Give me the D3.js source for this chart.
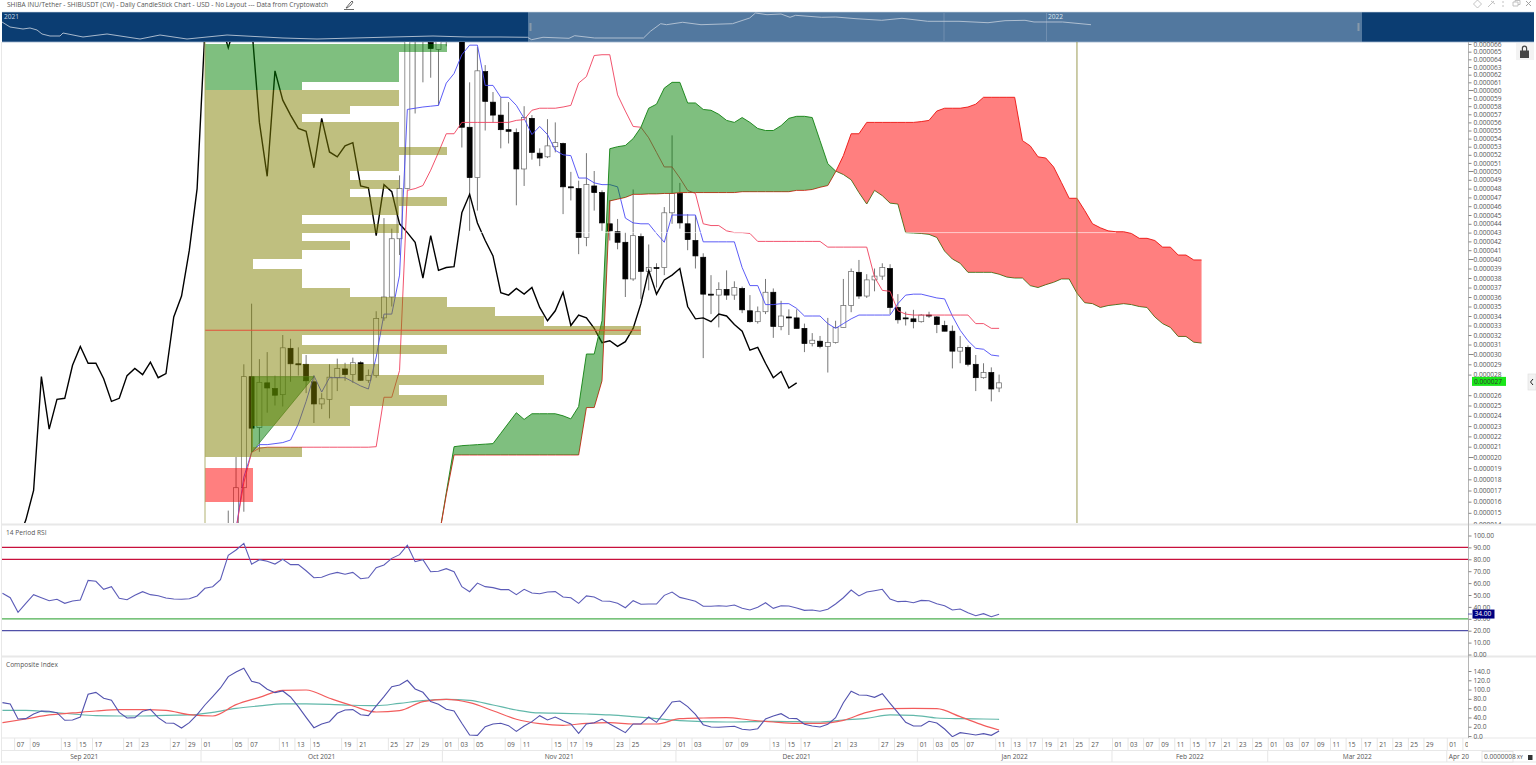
<!DOCTYPE html>
<html><head><meta charset="utf-8">
<script src="https://cdn.jsdelivr.net/npm/d3@7/dist/d3.min.js"></script>
<style>
html,body{margin:0;padding:0;background:#fff;overflow:hidden}
svg{display:block;font-family:"Open Sans",sans-serif}
text{fill:#555;font-size:6.6px}
</style></head><body>
<svg id="c" width="1536" height="765"></svg>
<script>
// ---- data (prices in millionths of USDT; bars counted from 1 Oct 2021) ----
const titleText = "SHIBA INU/Tether - SHIBUSDT (CW) - Daily CandleStick Chart - USD - No Layout --- Data from Cryptowatch";
const candleFirstBar = 3;
const candleOpen = [13.5,13.5,17.25,27.8,22.85,27.2,26.65,26.05,30.6,29.05,29,27.3,25.15,25.6,27.7,28.55,28,29.15,27.45,27.9,33.8,36,42.3,48,67.5,67,66.2,65.3,68,72,68,55.4,49.25,62.4,58.5,56.9,55.1,54.75,50.25,56.5,52.2,51.75,53,53.4,48.2,48,42.45,48.3,47.55,44,43.1,41.9,37.9,42.55,38.7,39.1,39.1,45.25,47.45,44,42.1,40.2,36.3,36.2,36.8,36.2,36.9,34.55,33.4,34.45,36.5,32.9,33.9,33.8,32.7,31.1,31.35,30.8,31.2,32.8,35.1,38.6,36.1,37.8,38.2,39,34.9,33.8,33.7,33.4,34.1,33.9,33,32.4,30.3,30.7,29,27.7,28.2,26.7];
const candleHigh = [15.2,20,29,35.3,29.5,30.2,27.9,32,31.6,30.7,29.9,27.9,26.2,29,29.55,29.15,29.65,29.3,28.5,34.5,44.65,43.45,49.5,68,72,72,68,68,70,75,72,61,65.6,63.25,59.75,59.1,58.5,55.25,58,56.9,52.8,56.4,56,53.5,49.9,48.9,52.2,50,47.8,46.7,44.55,43,47.9,42.9,41.65,39.55,45.9,54.4,48.65,45.1,44.9,40.65,38.3,37.55,38.8,37.65,37.1,36.2,35,37.9,36.9,35.6,34.7,34.7,33.2,32.2,31.9,33.8,33.5,37.9,39,39.9,38.4,39,39.55,39.45,36.3,34.45,34.65,34.2,34.45,34,33.5,33,31.9,30.9,29.9,29.1,28.7,28];
const candleLow = [13,13,15.1,20.45,20.5,24.3,25,24.9,27.3,27.9,26.2,23.3,24.65,23.75,26.4,27.4,27.2,27.4,27.2,27.7,33.5,35,40.45,47.9,57.1,61,61.6,58.1,65.7,68,52.9,43.2,45.5,55,56,52.8,53.4,46.1,48.3,51.4,50.6,51.6,52.3,45.1,46.65,40.55,41.45,45.5,43.2,42.1,41.1,36,37.7,35.8,36.7,37,38.3,44,43.45,41,39,29.6,34.2,32.8,35.7,35.7,34.3,33.3,33.2,34.2,31.7,32.5,32,32.7,30.2,30.8,30.6,28.2,31.1,32.8,34.4,35.8,35.9,36.6,37.8,34.2,33.2,33,32.7,33.3,33.8,32.2,32.4,28.6,29.1,28.8,26.4,27.6,25.4,26.3];
const candleClose = [13.2,17.25,27.8,22.8,27.25,26.7,26,30.65,29.05,28.95,27.4,25.15,25.65,27.75,28.6,28,29.15,27.45,27.9,33.75,36,42.3,48,67,70,70,65.4,66.5,67,74,55.4,49.25,62.5,58.6,56.9,55.1,54.9,50.25,56.6,52.3,51.6,53.1,53.5,48.2,48.1,42.45,48.45,47.55,44.1,43.2,41.9,37.9,42.65,38.7,39.1,39,45.25,47.45,44.1,42.2,40.35,36.3,36.2,36.8,36.2,37,34.65,33.4,34.45,36.5,32.9,34,33.8,32.7,31.1,31.45,30.8,31.2,32.8,35.1,38.7,36.1,37.8,38.2,39.1,34.9,33.6,33.7,33.4,34.1,34,33.1,32.4,30.3,30.7,29,27.7,28.2,26.6,27.2];

const tenkanFirstBar = 4;
const tenkan = [13.5,18.2,20.45,21.2,21.2,21.3,21.4,21.65,23.2,25.4,27.9,26.3,27.7,27.7,27.7,27.3,26.9,26.6,29.7,34.2,34.2,38.3,57.6,57.75,57.9,58,58.1,60.9,62.15,64.6,65.85,65.85,60.6,60.6,59.1,59.1,58.1,56.5,54.5,55.5,54.5,52.55,52,51.9,49.2,49.2,48.65,48.45,48.45,48.2,44.65,44.1,44,44,42.9,41.9,45,45,45,45,41.95,41.95,41.95,41.95,41.95,39.1,37.2,37.2,35.2,35.2,35.3,35.3,34.8,34,34,34,33.2,32.7,33.2,33.7,34.1,34.1,34.1,34.1,34.1,35.3,36.2,36.3,36.3,36.1,35.9,35.8,34,32.5,31.4,30.6,30.5,29.9,29.8];
const kijunFirstBar = 4;
const kijun = [13.5,17.7,20.45,20.85,20.95,20.95,20.95,20.95,20.95,20.95,20.95,20.95,20.95,20.95,20.95,20.95,20.95,20.95,21,25.8,25.8,28.4,47.8,48,48.35,50.1,52.3,54.6,54.6,56,56,56,56,56,56,56,56.25,56.35,57.5,57.75,57.75,57.75,57.9,58.1,60.9,61.75,64.5,64.6,64.6,59.4,57.4,55.5,55.4,54.1,52.3,50.5,50.5,49.2,47.8,47.45,44,43.8,43.8,43.2,43,43,42.9,42,42,42,42,42,42,42,42,42,41.35,41.35,41.35,41.35,41.35,41.35,38.1,36.7,36.6,34.55,34.2,34.1,34.1,34.1,34.1,34.1,34.1,34.1,34.1,33.2,33.2,32.7,32.7];
const chikouFirstBar = -24;
const chikou = [12.6,14.35,17,27.8,22.7,25.6,25.7,28.9,30.8,29.1,29.1,27.6,25.4,25.7,27.9,28.6,28,29.2,27.7,28.1,33.9,36.1,41,48,
  67.8,70.4,69,65.5,69,69,68.5,56,49.4,62.5,58.75,56.9,55.25,54.9,50.4,56.5,52.35,51.75,53.1,53.5,48.3,48.1,42.65,48.45,47.65,44,43,41.9,38,42.65,38.8,39.1,39.2,45.25,47.35,44.1,42.1,40.35,36.45,36.2,36.9,36.3,37,34.9,33.5,34.55,36.5,33,34.1,33.8,32.7,31.2,31.4,30.8,31.3,32.7,35.3,38.8,36.3,37.8,38.3,39,35,33.7,33.8,33.4,34.2,34,33.1,32.4,30.4,30.7,29.1,27.7,28.3,26.7,27.2];
const spanFirstBar = 30;
const spanA = [12.6,16.8,21,21.1,21.15,21.2,21.25,21.3,22.3,23.3,24.3,23.65,24.2,24.2,24.2,24.2,24,23.7,24.9,30,30,33.5,52.75,53,53.15,54,55.4,57.75,58.25,60.25,61,61,58.4,58.4,57.6,57.5,57,56.25,56,56.6,56,55.25,55,55,55.6,56.5,56.75,56.75,56.6,53.75,50.9,50,49.6,49,47.55,46.25,47.8,47.2,46.35,46.25,43,42.95,42.9,42.8,42.45,40.9,40,39.55,38.6,38.6,38.6,38.6,38.4,38.1,38,38,37.2,37,37.3,37.55,37.9,37.9,36.4,35.4,35.3,34.9,35.1,35.2,35.3,35.2,35,34.9,33.9,33.2,32.8,31.85,31.85,31.25,31.15];
const spanB = [12.6,16.6,20.2,20.2,20.2,20.2,20.2,20.2,20.2,20.2,20.2,20.2,20.2,20.2,20.2,20.2,20.2,20.2,20.2,24.8,24.8,27.4,46.6,46.8,47,47.35,47.35,47.4,47.4,47.45,47.45,47.55,47.55,47.55,47.55,47.55,47.55,47.55,47.55,47.65,47.65,47.65,47.65,47.65,47.65,47.65,47.8,47.8,47.9,48.15,48.35,49.9,51.9,54.6,54.6,56,56,56,56,56,56,56,56.1,56.25,57.4,57.75,57.75,57.75,57.9,58.25,59.1,59.1,59.1,59.1,59.1,53.75,53.1,51.75,51.6,50.5,48.7,46.9,46.9,45.5,44,43.55,43.2,43.1,43.1,42.9,42.35,42.35,42.1,41.35,41.35,40.45,40.45,39.9,39.9];
const wedgeBars = [6,14,6];
const wedgePrices = [27.8,27.8,20.45];

const profileTopPrice = [66,65,64,63,62,61,60,59,58,57,56,55,54,53,52,51,50,49,48,47,46,45,44,43,42,41,40,39,38,37,36,35,34,33,32,31,30,29,28,27,26,25,24,23,22,21,20,19,18,17];
const profileVolume = [5,4,4,4,4,2,4,4,3,2,4,4,4,5,4,4,3,4,3,5,4,2,4,2,3,2,1,2,2,3,5,6,7,9,2,5,2,3.6,7,4,5,3,3,1,1,2,0,1,1,1];
const profileGreenFrom = 61, profileRedBelow = 19;
const pocPrice = 32.5, pocVolume = 9;
const whiteLinePrice = 43, whiteLineBars = [33,117];
const markerBar = 112, profileBaseBar = 0;

const rsiFirstBar = -26;
const rsi = [51.4,47.7,35.4,43,50.3,47.7,45.2,46.4,43,45,45.8,62.3,61.5,54.8,57,47.2,46,49.7,52.8,50.3,49.4,47.5,46.6,46.4,46.9,49.2,55.6,57,62.9,83.3,87.8,93.4,75.8,79.7,78.3,76,80,75.5,75.5,70.4,64.5,64.9,67.4,69,67.4,69,63.7,64.5,73,75.2,80.8,83.9,91.8,78,79.7,69.6,69.9,72.1,69.6,57,52.8,60,57,56.2,54.5,54.5,50.3,54.8,51.7,51.1,52.5,52.8,48.3,47.7,43,49.2,48.3,45,44.7,43,39.3,45.2,42.2,42.4,42.4,49.7,52.5,48,46.4,44.7,40.5,40.5,41,40.5,41.6,38.8,37.4,39.7,43.5,38.8,41,40.8,39.1,37.1,37.4,36.3,38,42.4,47.7,54.2,49.2,52.5,53.6,54.8,46.6,44.4,44.7,43.5,45.5,45.2,42.7,41,37.4,38.2,35.1,32.6,34.3,31.8,33.8];
const rsiLevels = [90,80,30,20];
const rsiLevelColors = ["#c8103c","#c8103c","#4caf50","#5050a8"];
const compositeFirstBar = -26;
const composite = [71.8,69,36.6,37.4,47.4,53.9,53.2,50.3,33.8,34.5,40.9,89.8,94,81.2,76.9,51,38.8,39.5,53.2,57.5,39.5,28,27.3,17.2,28.7,45.9,66.8,84.8,103.4,127.9,137.9,145.9,117.8,113.5,100.6,93.4,97,84,63.2,40.2,17.9,25.9,30.9,48.9,56,56.8,45.9,43.8,64.7,84.8,106.3,109.9,120,101.3,94.1,74,68.3,57.5,53.9,27.3,2.2,1.4,20,25.9,27.3,22.3,10,21.6,30.9,43.8,34.5,40.9,33,25.9,5.7,25.9,28.7,36.6,25.9,16.5,7.2,25.9,25.9,40.9,29.4,51,73.3,75.4,63.2,46.7,24.4,19.4,18.7,20,20.9,14.4,12.9,15.7,36.6,43.1,48,38.1,37.4,25.2,21.6,19.4,25.2,39.5,71.8,96.3,88.4,87.7,83.3,91.2,70.4,50.3,29.4,21.6,21.6,31.6,28,15.1,-1.4,7.2,5,2.2,5,1.4,10.8];
const avgBars = [-26,-23,-20,-17,-14,-11,-8,-5,-2,1,4,7,10,13,16,19,22,25,28,31,34,37,40,43,46,49,52,55,58,61,64,67,70,73,76,79,82,85,88,91,94,97,100,102];
const compositeFast = [28.7,36.6,45.3,49.6,53.9,56.8,56.8,55.3,45.9,43.1,67.5,83.3,98.4,99.1,81.2,64.7,51.7,54.5,74,79,71.8,54.5,36,26.6,23,27.3,28.7,25.9,25.9,37.3,38.8,39.5,34.5,30.2,27.3,27.3,33.8,51,58.8,59.7,58.8,41.6,23,12.9];
const compositeSlow = [55.3,55.3,51.7,47.4,43.8,43.1,43.1,44.6,45.3,51,59.7,64.7,69,69,68.3,66.2,65.3,70.4,76.1,79,76.9,66.8,56,49.6,48.9,47.4,45.3,41.6,37.3,33,30.8,30.2,30.8,31.6,30.8,30.2,34.5,38.1,45.3,44.6,38.8,37.3,36.6,36];

const priceTicks = d3.range(14,67).filter(p=>p!==27);
const rsiTicks = d3.range(0,101,10);
const compositeTicks = d3.range(0,141,20);
const dateBars = [-24,-22,-18,-16,-14,-10,-8,-4,-2,0,4,6,10,12,14,18,20,24,26,28,31,33,35,39,41,45,47,49,53,55,59,61,63,67,69,73,75,77,81,83,87,89,92,94,96,98,102,104,106,108,110,112,114,117,119,121,123,125,127,129,131,133,135,137,139,141,143,145,147,149,151,153,155,157,160,162];
const dateLabels = ["07","09","13","15","17","21","23","27","29","01","05","07","11","13","15","19","21","25","27","29","01","03","05","09","11","15","17","19","23","25","29","01","03","07","09","13","15","17","21","23","27","29","01","03","05","07","11","13","17","19","21","25","27","01","03","07","09","11","15","17","21","23","25","01","03","07","09","11","15","17","21","23","25","29","01","0"];
const monthStarts = [-30,0,31,61,92,117,137,160];
const monthLabels = ["Sep 2021","Oct 2021","Nov 2021","Dec 2021","Jan 2022","Feb 2022","Mar 2022"];
const lastMonthLabel = "Apr 20";
const lastPriceLabel = "0.000027", lastRsiLabel = "34.00", lastRsi = 34, lastPrice = 27;
const navDays = [0,8,21,28,35,40,48,58,61,81,105,138,158,185,225,281,315,391,431,465,498,525.6,529.6,541,567,572.6,592.7,641.5,648.4,658.7,664.5,680.6,699,730.5,747.7,753.5,765,779,788,793.6,819.5,833.8,854,879.7,900,925.7,957,986,1003,1023,1032,1060.6,1089];
const navLevels = [66.7,50,43.3,46.7,40,26.7,20,20,30,16.7,26.7,10,23.3,10,23.3,13.3,10,16.7,20,16.7,16.7,15.7,7.7,15.7,12.3,21,13.3,13.3,35.7,61,57.7,65.7,57.7,61,80,96.7,91,93.3,82.3,89,82.3,83.3,77.7,72.3,79,69,69,64.3,71,72.3,66.7,66.7,57.7];

// ---- scales ----
const L = 2, R = 1468, T = 42, B = 523;
const x = d3.scaleLinear().domain([0,102]).range([204.9,999.1]);
const tickX = b => x(b) - 3.9;
const y = d3.scaleLinear().domain([14,20,30,40,50,60,66]).range([524,457,354,259,171,90,44]);
const yRsi = d3.scaleLinear().domain([0,100]).range([654.5,535.5]);
const yComp = d3.scaleLinear().domain([0,140]).range([736,671]);
const xVol = d3.scaleLinear().domain([0,9]).range([205,640.6]);
const xNav = d3.scaleLinear().domain([0,1089]).range([2,1091]);
const yNav = d3.scaleLinear().domain([0,100]).range([42,12]);

const svg = d3.select("#c");
const defs = svg.append("defs");
const clip = (id,a,b,w,h) => defs.append("clipPath").attr("id",id).append("rect").attr("x",a).attr("y",b).attr("width",w).attr("height",h);
clip("main",L,T,R-L,B-T); clip("axisMain",R,T,70,B-T+1); clip("rsi",L,526,R-L,130); clip("comp",L,658,R-L,79); clip("dates",0,738,R,25);

const series = (arr,first) => arr.map((v,i)=>({b:first+i,v}));
const line = yS => d3.line().x(d=>x(d.b)).y(d=>yS(d.v));

// ---- title & window chrome ----
svg.append("text").attr("x",7).attr("y",6.6).text(titleText);
svg.append("path").attr("d","M346 8L350 3L352 1L353 2L351 5L347 8ZM344 9.5H354").attr("fill","none").attr("stroke","#444").attr("stroke-width",0.8);
const chrome = svg.append("g").attr("fill","none").attr("stroke","#bbb").attr("stroke-width",0.9);
chrome.append("path").attr("d","M1477.5 0L1481.5 4L1477.5 8L1473.5 4Z");
chrome.append("path").attr("d","M1488 7L1491 4L1494 1M1491 1L1495 4");
chrome.append("path").attr("d","M1503 1V3M1503 5V7");
chrome.append("path").attr("d","M1513 2H1518V6H1513ZM1515 2V0.5H1520V4.5H1518");
chrome.append("path").attr("d","M1526 1L1531 6M1531 1L1526 6").attr("stroke","#999");

// ---- navigator ----
const nav = svg.append("g");
nav.append("rect").attr("x",L).attr("y",12).attr("width",1532).attr("height",30).attr("fill","#0b3d72");
nav.append("rect").attr("x",528).attr("y",12).attr("width",834).attr("height",30).attr("fill","#52789f");
nav.append("path").attr("d","M2 12H1534").attr("stroke","#cfd8e4").attr("stroke-width",0.6);
nav.append("path").attr("d","M2 42H1534").attr("stroke","#9db3cc").attr("stroke-width",0.8);
[944,1046.5].forEach(v=>nav.append("line").attr("x1",v).attr("x2",v).attr("y1",13).attr("y2",41).attr("stroke","#7f9ab8").attr("stroke-width",0.7));
nav.append("path").datum(navDays.map((d,i)=>({d,v:navLevels[i]})))
  .attr("fill","none").attr("stroke","#b9c6d6").attr("stroke-width",0.9)
  .attr("d",d3.line().x(d=>xNav(d.d)).y(d=>yNav(d.v)));
nav.append("text").attr("x",4).attr("y",18.5).style("fill","#c8d4e2").text("2021");
nav.append("text").attr("x",1048).attr("y",18.5).style("fill","#dde5ee").text("2022");
[530.5,1358.5].forEach(v=>nav.append("rect").attr("x",v-1).attr("y",23).attr("width",2).attr("height",8).attr("fill","#8899aa"));

// ---- main panel ----
const main = svg.append("g").attr("clip-path","url(#main)");
// candles
const candles = candleOpen.map((o,i)=>({b:candleFirstBar+i,o,h:candleHigh[i],l:candleLow[i],c:candleClose[i]}));
const cg = main.append("g");
cg.selectAll("line").data(candles).join("line")
  .attr("x1",d=>x(d.b)).attr("x2",d=>x(d.b)).attr("y1",d=>y(d.h)).attr("y2",d=>y(d.l))
  .attr("stroke","#777").attr("stroke-width",1);
cg.selectAll("rect").data(candles).join("rect")
  .attr("x",d=>x(d.b)-2.5).attr("width",5)
  .attr("y",d=>y(Math.max(d.o,d.c))).attr("height",d=>Math.max(1,y(Math.min(d.o,d.c))-y(Math.max(d.o,d.c))))
  .attr("fill",d=>d.c>d.o?"#fff":"#000").attr("stroke",d=>d.c>d.o?"#666":"#000").attr("stroke-width",0.7);
// lines
const addLine = (arr,first,color,w) => main.append("path").datum(series(arr,first)).attr("fill","none").attr("stroke",color).attr("stroke-width",w).attr("d",line(y));
addLine(chikou,chikouFirstBar,"#000",1.4);
addLine(tenkan,tenkanFirstBar,"#4a4af5",0.9);
addLine(kijun,kijunFirstBar,"#ef3f5c",0.9);
addLine(spanA,spanFirstBar,"#2f8f2f",1);
addLine(spanB,spanFirstBar,"#e8302c",1);
// cloud
const cloud = spanA.map((a,i)=>({b:spanFirstBar+i,a,s:spanB[i]}));
const split = cloud.findIndex(d=>d.a<d.s);
const area = d3.area().x(d=>x(d.b)).y0(d=>y(d.s)).y1(d=>y(d.a));
main.append("path").attr("d",area(cloud.slice(0,split))).attr("fill","#008000").attr("fill-opacity",0.5);
main.append("path").attr("d",area(cloud.slice(split-1))).attr("fill","#ff0000").attr("fill-opacity",0.5);
main.append("path").attr("d",d3.line().x(d=>x(d)).y((d,i)=>y(wedgePrices[i])).curve(d3.curveLinearClosed)(wedgeBars))
  .attr("fill","#008000").attr("fill-opacity",0.5).attr("stroke","#2f7f2f").attr("stroke-width",0.7);
// volume profile
const profile = profileTopPrice.map((p,i)=>({p,v:profileVolume[i]}));
main.append("g").attr("shape-rendering","crispEdges").selectAll("rect").data(profile).join("rect")
  .attr("x",xVol(0)).attr("y",d=>Math.round(y(d.p))).attr("width",d=>xVol(d.v)-xVol(0)).attr("height",d=>Math.round(y(d.p-1))-Math.round(y(d.p)))
  .attr("fill",d=>d.p>=profileGreenFrom?"#008000":d.p<=profileRedBelow?"#ff0000":"#808000").attr("fill-opacity",0.5);
main.append("line").attr("x1",xVol(0)).attr("x2",xVol(pocVolume)).attr("y1",y(pocPrice)).attr("y2",y(pocPrice)).attr("stroke","#e2503a").attr("stroke-width",1.1);
main.append("line").attr("x1",x(whiteLineBars[0])).attr("x2",x(whiteLineBars[1])).attr("y1",y(whiteLinePrice)).attr("y2",y(whiteLinePrice)).attr("stroke","#fff").attr("stroke-opacity",0.6);
main.append("line").attr("x1",xVol(0)).attr("x2",xVol(0)).attr("y1",T).attr("y2",B).attr("stroke","#a8a860").attr("stroke-width",0.9);
main.append("line").attr("x1",x(markerBar)).attr("x2",x(markerBar)).attr("y1",T).attr("y2",B).attr("stroke","#8f8f40").attr("stroke-width",0.9);

// ---- RSI panel ----
const rsiG = svg.append("g").attr("clip-path","url(#rsi)");
rsiLevels.forEach((v,i)=>rsiG.append("line").attr("x1",L).attr("x2",R).attr("y1",yRsi(v)).attr("y2",yRsi(v)).attr("stroke",rsiLevelColors[i]).attr("stroke-width",1.2));
rsiG.append("path").datum(series(rsi,rsiFirstBar)).attr("fill","none").attr("stroke","#5c5cb8").attr("stroke-width",1.1).attr("d",line(yRsi));
svg.append("text").attr("x",6).attr("y",535).text("14 Period RSI");

// ---- Composite panel ----
const compG = svg.append("g").attr("clip-path","url(#comp)");
const avg = arr => arr.map((v,i)=>({b:avgBars[i],v}));
const smooth = d3.line().x(d=>x(d.b)).y(d=>yComp(d.v)).curve(d3.curveMonotoneX);
compG.append("path").attr("d",smooth(avg(compositeSlow))).attr("fill","none").attr("stroke","#62b8aa").attr("stroke-width",1.2);
compG.append("path").attr("d",smooth(avg(compositeFast))).attr("fill","none").attr("stroke","#f25c5c").attr("stroke-width",1.2);
compG.append("path").datum(series(composite,compositeFirstBar)).attr("fill","none").attr("stroke","#5252ae").attr("stroke-width",1.1).attr("d",line(yComp));
svg.append("text").attr("x",6).attr("y",667).text("Composite Index");

// ---- separators ----
const seps = svg.append("g").attr("stroke","#e8e8e8");
[[524.5,1.8],[656.5,1.8],[738,1.2],[750.5,1.2],[762,1.2]].forEach(([v,w])=>seps.append("line").attr("x1",L).attr("x2",1536).attr("y1",v).attr("y2",v).attr("stroke-width",w));
seps.append("line").attr("x1",1.5).attr("x2",1.5).attr("y1",T).attr("y2",763).attr("stroke-width",1);

// ---- right axes ----
svg.append("line").attr("x1",R+.5).attr("x2",R+.5).attr("y1",T).attr("y2",738).attr("stroke","#b5b5b5");
const styleAxis = g => { g.select(".domain").remove(); g.selectAll(".tick line").attr("stroke","#888"); g.selectAll(".tick text").style("fill","#555").style("font-size","6.6px").style("font-family",'"Open Sans",sans-serif'); };
const gp = svg.append("g").attr("clip-path","url(#axisMain)").append("g").attr("transform",`translate(${R+.5},0)`)
  .call(d3.axisRight(y).tickValues(priceTicks).tickSize(3).tickPadding(2).tickFormat(v=>(v*1e-6).toFixed(6))).call(styleAxis);
gp.selectAll(".tick line").filter(v=>v%10===0).attr("x2",5);
svg.append("g").attr("transform",`translate(${R+.5},0)`).call(d3.axisRight(yRsi).tickValues(rsiTicks).tickSize(3).tickPadding(2).tickFormat(d3.format(".2f"))).call(styleAxis);
svg.append("g").attr("transform",`translate(${R+.5},0)`).call(d3.axisRight(yComp).tickValues(compositeTicks).tickSize(3).tickPadding(2).tickFormat(d3.format(".1f"))).call(styleAxis);

// last value flags
const flag = (yPos,x0,w,bg,color,label) => {
  svg.append("rect").attr("x",x0).attr("y",yPos-4.5).attr("width",w).attr("height",9).attr("fill",bg);
  svg.append("text").attr("x",x0+2).attr("y",yPos+2.4).style("fill",color).text(label);
};
flag(y(lastPrice)-3.5,1472,34,"#19e619","#333",lastPriceLabel);
svg.append("line").attr("x1",R).attr("x2",1472).attr("y1",yRsi(lastRsi)).attr("y2",yRsi(lastRsi)).attr("stroke","#5c5cb8");
flag(yRsi(lastRsi),1472.5,22,"#000080","#fff",lastRsiLabel);

// lock and side tab
svg.append("rect").attr("x",1516).attr("y",43).attr("width",18).attr("height",17).attr("fill","#f3f3f3");
svg.append("path").attr("d","M1520 50.5h9v7.5h-9zM1521.8 50.5v-2.2a2.7 2.7 0 0 1 5.4 0v2.2h-1.2v-2.2a1.5 1.5 0 0 0 -3 0v2.2z").attr("fill","#444");
svg.append("rect").attr("x",1528).attr("y",374).attr("width",8).attr("height",16).attr("fill","#f2f2f2").attr("stroke","#ddd").attr("stroke-width",0.6);
svg.append("path").attr("d","M1533 379L1530.5 382L1533 385").attr("fill","none").attr("stroke","#222");

// ---- date axis ----
const dateLookup = new Map(dateBars.map((b,i)=>[b,dateLabels[i]]));
const dg = svg.append("g").attr("clip-path","url(#dates)").append("g").attr("transform","translate(0,738)")
  .call(d3.axisBottom(d3.scaleLinear().domain(x.domain()).range([tickX(0),tickX(102)])).tickValues(dateBars).tickSize(12).tickPadding(0).tickFormat(b=>dateLookup.get(b)));
dg.select(".domain").remove();
dg.selectAll(".tick line").attr("stroke","#e6e6e6");
dg.selectAll(".tick text").attr("text-anchor","start").attr("x",2).attr("y",6.5).attr("dy","0.35em").style("fill","#555").style("font-size","6.6px").style("font-family",'"Open Sans",sans-serif');
const mg = svg.append("g");
monthStarts.forEach(b=>{ if(tickX(b)>=0) mg.append("line").attr("x1",tickX(b)).attr("x2",tickX(b)).attr("y1",750.5).attr("y2",762).attr("stroke","#e6e6e6"); });
monthLabels.forEach((t,i)=>mg.append("text").attr("x",(tickX(monthStarts[i])+tickX(monthStarts[i+1]))/2).attr("y",759).attr("text-anchor","middle").text(t));
mg.append("text").attr("x",tickX(monthStarts[7])+2).attr("y",759).text(lastMonthLabel);
// bottom right readout
svg.append("rect").attr("x",1482).attr("y",751.5).attr("width",31).attr("height",10.5).attr("fill","#fff").attr("stroke","#ddd").attr("stroke-width",0.7);
svg.append("text").attr("x",1484).attr("y",759).text("0.0000008");
svg.append("text").attr("x",1517).attr("y",758.5).style("font-size","5px").style("fill","#333").text("XY");
svg.append("rect").attr("x",1528).attr("y",755).attr("width",4.5).attr("height",5).attr("fill","#333");
</script>
</body></html>
